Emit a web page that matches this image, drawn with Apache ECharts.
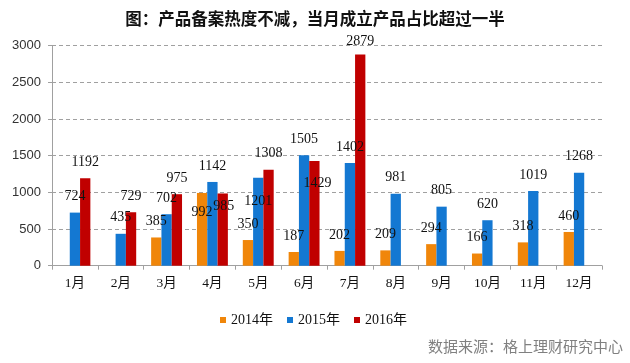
<!DOCTYPE html>
<html>
<head>
<meta charset="utf-8">
<script src="https://cdn.jsdelivr.net/npm/echarts@6/dist/echarts.min.js"></script>
<style>
html,body{margin:0;padding:0;background:#fff;}
#chart{width:630px;height:363px;}
</style>
</head>
<body>
<div id="chart"></div>
<script>
// ---- data ----
var months = ['1月','2月','3月','4月','5月','6月','7月','8月','9月','10月','11月','12月'];
var seriesNames = ['2014年','2015年','2016年'];
var y2014 = [null, null, 385, 992, 350, 187, 202, 209, 294, 166, 318, 460];
var y2015 = [724, 435, 702, 1142, 1201, 1505, 1402, 981, 805, 620, 1019, 1268];
var y2016 = [1192, 729, 975, 985, 1308, 1429, 2879, null, null, null, null, null];
var yTicks = [0, 500, 1000, 1500, 2000, 2500, 3000];
var titleText = '图：产品备案热度不减，当月成立产品占比超过一半';
var sourceText = '数据来源：格上理财研究中心';

// ---- styling (kept separate from data) ----
var colors = ['#F0860A', '#1478D2', '#C00000'];
// manual label nudges, as in the original (series index -> month index -> [dx, dy])
var labelNudges = {
  0: {3: [0, 35]},
  1: {4: [0, 40]},
  2: {3: [1, 29], 5: [3, 38], 6: [0, 3]}
};
var serif = "'Liberation Serif', 'Noto Sans CJK SC', serif";

function buildData(values, si) {
  return values.map(function (v, i) {
    var item = { value: v };
    var n = labelNudges[si] && labelNudges[si][i];
    if (n) item.label = { offset: n };
    return item;
  });
}

var chart = echarts.init(document.getElementById('chart'), null, { renderer: 'canvas' });
var allValues = [y2014, y2015, y2016];
var series = allValues.map(function (vals, si) {
  return {
    name: seriesNames[si],
    type: 'bar',
    barWidth: 10.3,
    barGap: '0%',
    itemStyle: { color: colors[si] },
    label: {
      show: true,
      position: 'top',
      distance: 9,
      color: '#111',
      fontFamily: serif,
      fontSize: 14
    },
    data: buildData(vals, si)
  };
});

chart.setOption({
  animation: false,
  title: {
    text: titleText,
    left: 'center',
    top: 5,
    textStyle: { fontSize: 16.5, fontWeight: 'bold', color: '#111', fontFamily: "'Noto Sans CJK SC', sans-serif" }
  },
  legend: {
    data: seriesNames,
    left: 215,
    top: 308,
    itemWidth: 6,
    itemHeight: 6,
    itemGap: 14,
    icon: 'rect',
    textStyle: { fontSize: 14, fontFamily: serif, color: '#111' }
  },
  grid: { left: 52, right: 28, top: 45.7, bottom: 97.3 },
  xAxis: {
    type: 'category',
    data: months,
    axisLine: { lineStyle: { color: '#a0a0a0' } },
    axisTick: { show: true, length: 4, lineStyle: { color: '#a0a0a0' } },
    axisLabel: { color: '#111', fontSize: 13.5, fontFamily: serif, margin: 11, interval: 0 }
  },
  yAxis: {
    type: 'value',
    min: yTicks[0],
    max: yTicks[yTicks.length - 1],
    interval: yTicks[1] - yTicks[0],
    axisLine: { show: true, lineStyle: { color: '#a0a0a0' } },
    axisTick: { show: true, length: 4, lineStyle: { color: '#a0a0a0' } },
    axisLabel: {
      color: '#333', fontSize: 13, fontFamily: "'Liberation Sans', sans-serif", margin: 11,
      formatter: function (v) { return String(v); }
    },
    splitLine: { show: true, lineStyle: { color: '#a0a0a0', type: [4, 3] } }
  },
  graphic: [{
    type: 'text',
    right: 7,
    top: 339,
    style: { text: sourceText, fill: '#808080', fontSize: 15, fontFamily: "'Noto Sans CJK SC', sans-serif" }
  }],
  series: series
});
</script>
</body>
</html>
